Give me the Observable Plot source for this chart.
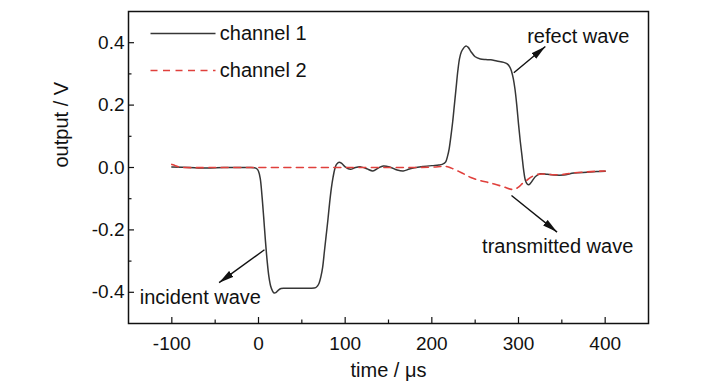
<!DOCTYPE html>
<html><head><meta charset="utf-8">
<script src="https://cdn.jsdelivr.net/npm/d3@7"></script>
<script src="https://cdn.jsdelivr.net/npm/@observablehq/plot@0.6"></script>
<style>
html,body{margin:0;padding:0;background:#fff;}
#chart svg{display:block;}
</style>
</head><body><div id="chart"></div>
<script>
// ---- data ----
const time1 = [-100,-80,-60,-40,-20,-10,-5,-2,0,2,4,6,8,10,12,14,16,18,20,23,26,30,40,50,60,66,68,70,72,74,76,78,80,82,84,86,88,90,93,96,100,106,112,118,125,132,138,144,152,160,167,174,180,190,200,208,212,214,216,218,220,222,224,226,228,230,232,234,236,238,240,242,245,250,256,262,268,275,283,287,290,292,294,296,298,300,302,304,306,308,310,312,314,317,320,325,333,341,352,364,379,390,400];
const channel1 = [0.002,0.0,-0.002,0.0,0.0,0.0,-0.001,-0.004,-0.012,-0.035,-0.09,-0.16,-0.235,-0.30,-0.35,-0.38,-0.395,-0.402,-0.401,-0.393,-0.388,-0.387,-0.387,-0.387,-0.387,-0.385,-0.380,-0.37,-0.35,-0.32,-0.27,-0.22,-0.17,-0.115,-0.068,-0.032,-0.005,0.010,0.017,0.013,0.002,-0.006,0.0,0.002,-0.004,-0.011,-0.002,0.005,0.001,-0.008,-0.011,-0.005,-0.001,0.003,0.006,0.008,0.01,0.013,0.018,0.035,0.06,0.10,0.145,0.20,0.255,0.31,0.35,0.37,0.38,0.387,0.389,0.385,0.372,0.355,0.348,0.346,0.345,0.341,0.337,0.332,0.322,0.308,0.285,0.25,0.20,0.14,0.085,0.038,-0.01,-0.042,-0.053,-0.055,-0.05,-0.038,-0.028,-0.02,-0.022,-0.024,-0.024,-0.018,-0.015,-0.013,-0.012];
const time2 = [-100,-96,-92,-85,-50,0,50,100,150,200,210,215,220,225,233,240,245,256,265,272,283,292,296,300,305,310,315,322,330,341,352,364,379,390,400];
const channel2 = [0.01,0.006,0.002,0.0,0.0,0.0,0.0,0.0,0.0,0.001,0.003,0.004,0.001,-0.005,-0.015,-0.025,-0.032,-0.042,-0.048,-0.053,-0.062,-0.070,-0.069,-0.063,-0.05,-0.04,-0.03,-0.022,-0.021,-0.023,-0.022,-0.017,-0.014,-0.012,-0.011];
const seriesNames = ["channel 1", "channel 2"];
const xTicks = [-100, 0, 100, 200, 300, 400];
const xMinorTicks = [-50, 50, 150, 250, 350];
const yTicks = [-0.4, -0.2, 0.0, 0.2, 0.4];
const yMinorTicks = [-0.3, -0.1, 0.1, 0.3];
const xLabel = "time / μs";
const yLabel = "output / V";
const annotationTexts = ["refect wave", "transmitted wave", "incident wave"];

// ---- layout (positions of annotations / legend, in data units) ----
const annotationLayout = [
  {tx: 310, ty: 0.418, x1: 294.6, y1: 0.3035, x2: 331, y2: 0.388},
  {tx: 258, ty: -0.255, x1: 291.9, y1: -0.0897, x2: 344.5, y2: -0.207},
  {tx: -137, ty: -0.416, x1: 6.9, y1: -0.2638, x2: -45.5, y2: -0.369}
];
const legendLayout = [
  {x1: -124.6, x2: -49.6, y: 0.4295, tx: -44.7},
  {x1: -124.6, x2: -49.6, y: 0.311, tx: -44.7}
];

const W = 728, H = 390, mL = 128, mR = 80, mT = 11, mB = 67;
const innerW = W - mL - mR, innerH = H - mT - mB;
const black = "#363636", red = "#e0403c", ink = "#111";
const font = "'Liberation Sans', Arial, Helvetica, sans-serif";

const d1 = time1.map((t, i) => ({t, v: channel1[i]}));
const d2 = time2.map((t, i) => ({t, v: channel2[i]}));
const ann = annotationTexts.map((text, i) => ({text, ...annotationLayout[i]}));
const leg = seriesNames.map((name, i) => ({name, ...legendLayout[i]}));

function filledArrow(color) {
  const m = d3.create("svg:marker")
    .attr("viewBox", "-15 -4 15 8")
    .attr("markerWidth", 15).attr("markerHeight", 8)
    .attr("markerUnits", "userSpaceOnUse")
    .attr("orient", "auto")
    .attr("refX", 0).attr("refY", 0)
    .attr("fill", color).attr("stroke", "none");
  m.append("path").attr("d", "M-15,-3.6L0,0L-15,3.6Z");
  return m.node();
}

const chart = Plot.plot({
  width: W, height: H,
  marginLeft: mL, marginRight: mR, marginTop: mT, marginBottom: mB,
  style: {fontFamily: font, fontSize: "19px", color: ink, background: "#fff", overflow: "visible"},
  x: {domain: [-150, 450]},
  y: {domain: [-0.5, 0.5]},
  marks: [
    // inward tick marks
    Plot.ruleX(xTicks, {x: d => d, insetTop: innerH - 6, stroke: ink, strokeWidth: 1.2}),
    Plot.ruleX(xMinorTicks, {x: d => d, insetTop: innerH - 3.5, stroke: ink, strokeWidth: 1.2}),
    Plot.ruleY(yTicks, {y: d => d, insetRight: innerW - 6, stroke: ink, strokeWidth: 1.2}),
    Plot.ruleY(yMinorTicks, {y: d => d, insetRight: innerW - 3.5, stroke: ink, strokeWidth: 1.2}),
    Plot.axisX(xTicks, {tickSize: 0, tickPadding: 13, tickFormat: d => String(d), label: null, fontSize: 19, fill: ink}),
    Plot.axisY(yTicks, {tickSize: 0, tickPadding: 4, tickFormat: d => d.toFixed(1), label: null, fontSize: 19, fill: ink}),
    // axis titles
    Plot.text([xLabel], {text: d => d, frameAnchor: "bottom", dy: 53, fontSize: 20, fill: ink}),
    Plot.text([yLabel], {text: d => d, frameAnchor: "left", dx: -67, rotate: -90, fontSize: 20, fill: ink}),
    // series
    Plot.line(d1, {x: "t", y: "v", stroke: black, strokeWidth: 1.5, curve: "catmull-rom"}),
    Plot.line(d2, {x: "t", y: "v", stroke: red, strokeWidth: 1.6, strokeDasharray: "7,5.5", curve: "catmull-rom"}),
    // legend
    Plot.link(leg.slice(0, 1), {x1: "x1", x2: "x2", y1: "y", y2: "y", stroke: black, strokeWidth: 1.5}),
    Plot.link(leg.slice(1, 2), {x1: "x1", x2: "x2", y1: "y", y2: "y", stroke: red, strokeWidth: 1.6, strokeDasharray: "7,5.5"}),
    Plot.text(leg, {x: "tx", y: "y", text: "name", textAnchor: "start", fontSize: 20, fill: ink}),
    // annotations
    Plot.link(ann, {x1: "x1", y1: "y1", x2: "x2", y2: "y2", stroke: ink, strokeWidth: 1.4, markerEnd: filledArrow}),
    Plot.text(ann, {x: "tx", y: "ty", text: "text", textAnchor: "start", fontSize: 20, fill: ink}),
    Plot.frame({stroke: ink, strokeWidth: 1.5})
  ]
});
document.getElementById("chart").append(chart);
</script>
</body></html>
